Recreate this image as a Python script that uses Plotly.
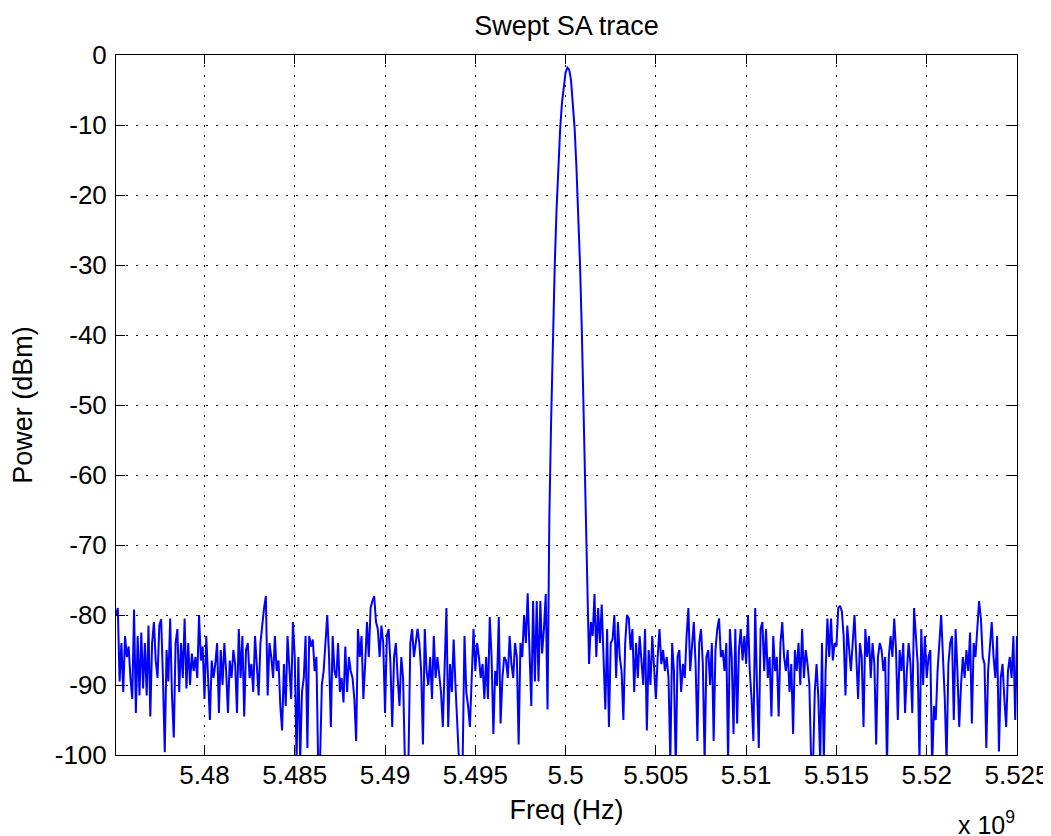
import numpy as np
import plotly.graph_objects as go

# Frequency grid: 500 bins, 100 kHz apart, ending at 5.525 GHz
f_start_hz = 5.4751e9
f_step_hz = 1e5

power_dbm = [
    -80, -79, -89.5, -84, -91, -83, -86, -84.5, -89, -92,
    -79.2, -94, -83, -91.5, -82.5, -90.5, -84, -91.5, -81.5, -94.5,
    -84, -81, -86.5, -89, -81.5, -80.6, -89, -99.6, -85, -89.5,
    -80.5, -91.5, -97.5, -84, -82, -91, -84, -89, -80.5, -90.5,
    -84, -90, -85.5, -88, -86, -89, -80, -86.5, -84.5, -92,
    -83, -90.5, -95, -86.5, -89, -87, -84, -94, -85, -90,
    -84, -88, -94, -86.5, -89, -85, -87, -94, -82, -89,
    -83, -94.5, -85, -84, -89, -87, -91, -83, -88, -91.5,
    -84, -81, -79, -77.3, -91.5, -84, -86, -89, -83, -88,
    -86.5, -93, -96.5, -87, -93, -83, -88, -92, -81, -86,
    -101, -86, -101, -91, -89, -83, -99, -83, -84.5, -83.5,
    -88, -86, -102, -101, -90, -88, -84, -80, -86, -96,
    -83, -88, -89, -84, -91, -89, -92.5, -84.5, -91, -86,
    -88, -89, -92, -98, -82, -86, -83, -92, -87, -81,
    -86, -79, -78, -77.3, -81, -82, -86, -81.5, -84, -94,
    -83, -82, -87, -96, -86, -84, -89, -93, -86, -89,
    -101, -102, -100.5, -84, -82, -86, -84, -82, -84, -88,
    -98.5, -82, -88, -90, -86, -92, -83, -89, -86, -89,
    -91, -96, -86, -79, -96, -87, -91, -83.5, -90, -96,
    -101, -102, -100.5, -83, -91, -93, -96, -89, -82, -88,
    -84, -86, -89, -87, -92, -86, -92, -80.3, -86, -97,
    -88, -90, -80.3, -95.5, -89, -86, -86.5, -89, -83, -87,
    -89, -84, -86, -98.5, -84, -86, -80, -84, -76.9, -85,
    -93, -78, -89.5, -78, -89.5, -78, -85.5, -82, -77, -93.5,
    -66, -52, -40, -30, -22, -15.5, -10.5, -6.8, -4.2, -2.5,
    -1.8, -2.1, -3.6, -6.5, -10.5, -16, -22.5, -30, -39.5, -51,
    -63, -76, -87, -81, -83, -77, -86, -79, -84, -78.5,
    -85, -93.5, -82, -96, -84, -83.5, -80, -89, -81, -86,
    -88, -95, -84, -80, -80.5, -85, -82, -91, -84, -89,
    -83, -87, -90, -82, -96.5, -85, -90, -83, -88, -92,
    -86, -82, -87, -85, -88, -86, -89, -101, -84, -88,
    -102, -86, -85, -91, -87, -89, -83, -79, -88, -85,
    -81, -87, -98, -84, -82, -87, -101, -86, -85, -90,
    -84, -98, -85, -82, -80.5, -86, -85, -88, -84, -101,
    -82, -86, -97, -82, -95.5, -85, -82, -86.5, -83, -87,
    -80, -88, -92, -98, -79, -90, -99, -82, -81, -88,
    -82, -89, -86, -94.5, -83, -88, -86, -94.5, -84, -81,
    -86, -88, -85, -91, -87, -97, -85, -88, -84, -90,
    -82, -89, -85, -87, -90, -101, -102, -91, -87, -92,
    -101, -84, -101, -88, -80.5, -86, -80.5, -86.5, -84, -84.5,
    -79, -78.7, -79.5, -83, -91.5, -81.5, -85, -88, -84, -80,
    -86, -92, -84, -86, -96, -82, -86, -83, -89, -84,
    -87, -98.5, -86, -84, -85, -88, -86, -102, -86, -83,
    -86, -80.5, -85, -95, -85, -88, -84, -94, -88, -84,
    -87, -94, -79, -83, -87, -101, -82, -90, -83, -89,
    -86, -85, -102, -93, -95, -88, -84, -80, -86, -92,
    -101, -87, -84, -83, -95, -82, -88, -96, -90, -86,
    -89, -85, -88, -82.5, -95.5, -84, -86, -81, -78, -80.5,
    -86, -87, -99, -88, -84, -81, -86, -89, -83, -99.5,
    -89, -87, -92, -96, -88, -86, -89, -83, -95, -83,
]

freq_hz = f_start_hz + f_step_hz * np.arange(len(power_dbm))

x_tick_vals = [5.48e9, 5.485e9, 5.49e9, 5.495e9, 5.5e9, 5.505e9, 5.51e9, 5.515e9, 5.52e9, 5.525e9]
x_tick_text = ["5.48", "5.485", "5.49", "5.495", "5.5", "5.505", "5.51", "5.515", "5.52", "5.525"]
y_tick_vals = [0, -10, -20, -30, -40, -50, -60, -70, -80, -90, -100]
y_tick_text = ["0", "-10", "-20", "-30", "-40", "-50", "-60", "-70", "-80", "-90", "-100"]

FONT = "Liberation Sans, Arial, Helvetica, sans-serif"
FS_TICK = 26
FS_TITLE = 27

# The page body has an 8 px margin, so the figure is sized to fit inside the window.
W, H = 1043, 828
M_L, M_R, M_T, M_B = 108, 34, 47, 81
plot_h = H - M_T - M_B

fig = go.Figure()
fig.add_trace(go.Scatter(
    x=freq_hz, y=power_dbm, mode="lines",
    line=dict(color="#0000ff", width=2),
    hoverinfo="skip", showlegend=False,
))

axis_common = dict(
    showline=True, linecolor="black", linewidth=1, mirror="ticks",
    ticks="inside", ticklen=9, tickcolor="black", tickwidth=1,
    showgrid=True, gridcolor="black", gridwidth=1, griddash="2px,8px",
    zeroline=False, tickfont=dict(family=FONT, size=FS_TICK, color="black"),
    automargin=False,
)

fig.update_layout(
    template="none",
    width=W, height=H,
    margin=dict(l=M_L, r=M_R, t=M_T, b=M_B),
    paper_bgcolor="white", plot_bgcolor="white",
    font=dict(family=FONT, size=FS_TICK, color="black"),
    title=dict(text="Swept SA trace", x=0.5, xanchor="center", xref="paper",
               y=1 - 18 / H, yanchor="middle", yref="container",
               font=dict(family=FONT, size=FS_TITLE, color="black")),
    xaxis=dict(range=[f_start_hz, 5.525e9], tickmode="array",
               tickvals=x_tick_vals, ticktext=x_tick_text,
               title=dict(text="Freq (Hz)", standoff=10,
                          font=dict(family=FONT, size=FS_TITLE, color="black")),
               ticklabelstandoff=-3,
               **axis_common),
    yaxis=dict(range=[-100, 0], tickmode="array",
               tickvals=y_tick_vals, ticktext=y_tick_text,
               title=dict(text="Power (dBm)", standoff=14,
                          font=dict(family=FONT, size=FS_TITLE, color="black")),
               ticklabelstandoff=3,
               **axis_common),
    annotations=[dict(
        text="x 10<sup>9</sup>", xref="paper", yref="paper",
        x=1.0, y=-(H - M_B + 5 - (H - M_B - 0)) / plot_h - 81 / plot_h + 0.0,
        xanchor="right", yanchor="bottom",
        showarrow=False, font=dict(family=FONT, size=25, color="black"),
    )],
)

fig.write_html("out.html")
